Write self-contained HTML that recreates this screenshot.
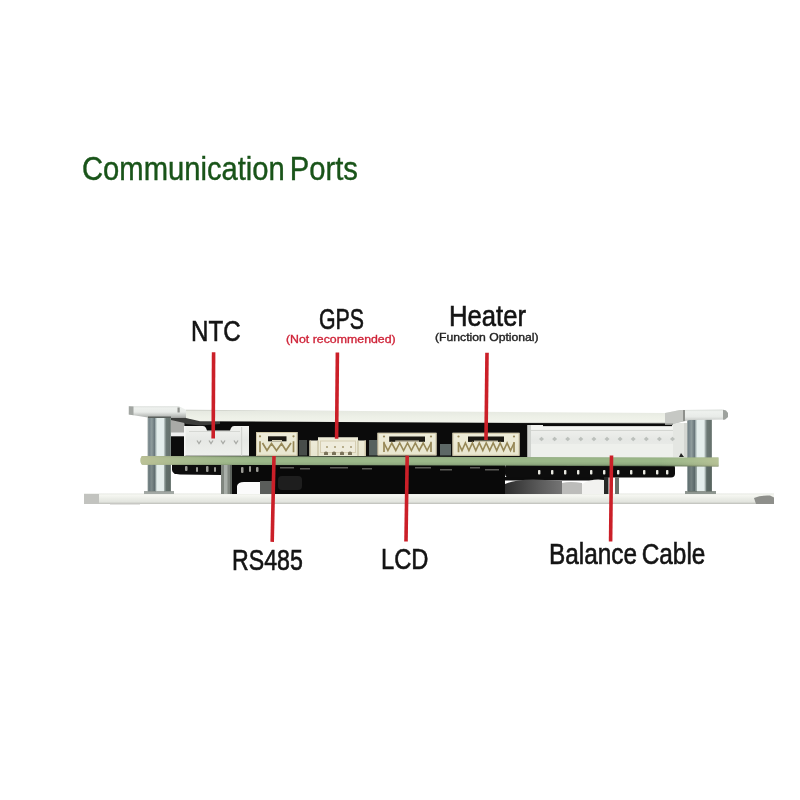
<!DOCTYPE html>
<html><head><meta charset="utf-8">
<style>
*{margin:0;padding:0;box-sizing:border-box}
html,body{width:800px;height:800px;background:#fff;overflow:hidden}
body{position:relative;font-family:"Liberation Sans",sans-serif}
.a{position:absolute}
.t{position:absolute;white-space:nowrap;line-height:1;transform-origin:0 0}
.r{position:absolute;background:#cf1720}
</style></head><body>

<!-- Title -->
<div class="t" id="title" style="left:82.02px;top:152.50px;font-size:32.34px;transform:scaleX(0.903);color:#195419;-webkit-text-stroke:0.4px #195419;word-spacing:-3.5px">Communication Ports</div>

<!-- labels -->
<div class="t" id="ntc" style="left:191.22px;top:316.75px;font-size:28.59px;transform:scaleX(0.844);color:#141414;-webkit-text-stroke:0.6px #141414">NTC</div>
<div class="t" id="gps" style="left:318.76px;top:305.21px;font-size:28.67px;transform:scaleX(0.743);color:#141414;-webkit-text-stroke:0.6px #141414">GPS</div>
<div class="t" id="gpss" style="left:286.32px;top:334.52px;font-size:10.12px;transform:scaleX(1.220);color:#cf2338;-webkit-text-stroke:0.3px #cf2338">(Not recommended)</div>
<div class="t" id="heat" style="left:449.18px;top:302.45px;font-size:28.61px;transform:scaleX(0.897);color:#141414;-webkit-text-stroke:0.6px #141414">Heater</div>
<div class="t" id="heats" style="left:434.71px;top:333.14px;font-size:10.44px;transform:scaleX(1.167);color:#222;-webkit-text-stroke:0.35px #222">(Function Optional)</div>
<div class="t" id="rs" style="left:232.34px;top:545.89px;font-size:28.58px;transform:scaleX(0.811);color:#141414;-webkit-text-stroke:0.6px #141414">RS485</div>
<div class="t" id="lcd" style="left:380.94px;top:544.80px;font-size:28.65px;transform:scaleX(0.829);color:#141414;-webkit-text-stroke:0.6px #141414">LCD</div>
<div class="t" id="bal" style="left:548.82px;top:539.61px;font-size:28.69px;transform:scaleX(0.850);color:#141414;-webkit-text-stroke:0.6px #141414;word-spacing:-2.6px">Balance Cable</div>

<!-- board -->
<svg class="a" style="left:0;top:0;filter:blur(0.35px)" width="800" height="800" viewBox="0 0 800 800">
<defs>
<linearGradient id="gso" x1="0" x2="1" y1="0" y2="0">
<stop offset="0" stop-color="#a8b2ae"/><stop offset="0.06" stop-color="#76848a"/><stop offset="0.18" stop-color="#8e9c9c"/>
<stop offset="0.3" stop-color="#6a787c"/><stop offset="0.36" stop-color="#b8c6c4"/><stop offset="0.42" stop-color="#e4eeec"/><stop offset="0.68" stop-color="#e4eeec"/>
<stop offset="0.74" stop-color="#a0acaa"/><stop offset="0.8" stop-color="#6a7874"/><stop offset="0.95" stop-color="#66726e"/><stop offset="1" stop-color="#8c9692"/>
</linearGradient>
<linearGradient id="gtp" x1="0" x2="0" y1="0" y2="1">
<stop offset="0" stop-color="#c2c5bd"/><stop offset="0.1" stop-color="#e6e9e1"/><stop offset="0.5" stop-color="#edf0e7"/>
<stop offset="0.86" stop-color="#f1f3eb"/><stop offset="0.95" stop-color="#c4c6c0"/><stop offset="1" stop-color="#3a3a38"/>
</linearGradient>
<linearGradient id="gtab" x1="0" x2="0" y1="0" y2="1">
<stop offset="0" stop-color="#d6d9d4"/><stop offset="0.2" stop-color="#eceee9"/><stop offset="0.65" stop-color="#e4e6e1"/><stop offset="1" stop-color="#a4a7a3"/>
</linearGradient>
<linearGradient id="gbp" x1="0" x2="0" y1="0" y2="1">
<stop offset="0" stop-color="#e4e6e0"/><stop offset="0.15" stop-color="#f6f7f2"/><stop offset="0.45" stop-color="#eceee8"/>
<stop offset="0.8" stop-color="#e2e4de"/><stop offset="1" stop-color="#bcbdb8"/>
</linearGradient>
<linearGradient id="gpcb" x1="0" x2="0" y1="0" y2="1">
<stop offset="0" stop-color="#7d9471"/><stop offset="0.18" stop-color="#98b386"/><stop offset="0.5" stop-color="#9cb98a"/><stop offset="0.8" stop-color="#90ab80"/><stop offset="1" stop-color="#52664a"/>
</linearGradient>
<linearGradient id="gpcbh" x1="0" x2="1" y1="0" y2="0">
<stop offset="0" stop-color="#c2c49a" stop-opacity="0.85"/><stop offset="0.07" stop-color="#b8c096" stop-opacity="0.5"/><stop offset="0.2" stop-color="#b0bc92" stop-opacity="0"/>
<stop offset="0.9" stop-color="#b8c296" stop-opacity="0"/><stop offset="1" stop-color="#c4c89c" stop-opacity="0.7"/>
</linearGradient>
<linearGradient id="gcw" x1="0" x2="0" y1="0" y2="1">
<stop offset="0" stop-color="#f2f3f0"/><stop offset="0.45" stop-color="#e6e8e5"/><stop offset="1" stop-color="#eef0ec"/>
</linearGradient>
<linearGradient id="gcc" x1="0" x2="0" y1="0" y2="1">
<stop offset="0" stop-color="#eeecd9"/><stop offset="1" stop-color="#e8e6d0"/>
</linearGradient>
</defs>

<!-- bottom plate -->
<rect x="84" y="493.5" width="690" height="10.5" fill="url(#gbp)"/>
<rect x="84" y="494" width="15" height="10" fill="#c2c3bf"/>
<path d="M754 498 Q760 495 770 495.5 L774 497.5 L774 504 L756 504 Z" fill="#8e8f8b"/>
<rect x="110" y="503" width="30" height="1.5" fill="#c8c8c4"/>

<!-- under pcb -->
<rect x="505" y="464" width="170" height="13.5" rx="4" fill="#0d0d0d"/>
<path d="M172 464 L232 464 L232 475 L222 475 L180 474.5 Q172 474 172 470 Z" fill="#0d0d0d"/>
<rect x="221" y="465" width="12" height="29" fill="#80867f"/>
<rect x="224" y="465" width="3.5" height="29" fill="#a8aea8"/>
<rect x="230" y="465" width="3" height="29" fill="#5e645e"/>
<rect x="232" y="464" width="273" height="30" fill="#090909"/>
<path d="M237 494 L237 486 Q238 482 244 482 L260 482 L260 494 Z" fill="#fbfbfb"/>
<rect x="260" y="481" width="12" height="13" fill="#5a5d5a"/>
<rect x="278" y="476" width="24" height="14" rx="4" fill="#1e1e1e"/>
<rect x="505" y="477" width="100" height="3.5" fill="#0c0c0c"/>
<linearGradient id="gblob" x1="0" x2="1" y1="0" y2="0"><stop offset="0" stop-color="#2e2e2e"/><stop offset="0.6" stop-color="#5a5a5a"/><stop offset="1" stop-color="#747474"/></linearGradient>
<path d="M505 494 L505 484 Q520 478 545 480 L562 481 L562 494 Z" fill="url(#gblob)"/>
<path d="M562 494 L562 483 Q570 481 582 483 L582 494 Z" fill="#bcbcba"/>
<path d="M582 494 L582 484 Q592 478 604 480 L604 494 Z" fill="#f2f2f0"/>
<rect x="604" y="477" width="4.5" height="17" fill="#262826"/>
<rect x="615" y="477" width="4" height="17" fill="#6a706a"/>
<!-- solder joints under pcb left -->
<g fill="#9a9a94">
<rect x="185" y="466" width="2.5" height="5" rx="1"/><rect x="196" y="467" width="2" height="5" rx="1"/><rect x="206" y="466" width="2.5" height="6" rx="1"/>
<rect x="214" y="467" width="2" height="5" rx="1"/><rect x="241" y="467" width="2.5" height="6" rx="1"/><rect x="249" y="466" width="2" height="6" rx="1"/>
<rect x="256" y="467" width="2.5" height="5" rx="1"/>
</g>
<g fill="#5a5a56">
<rect x="280" y="467" width="14" height="1.5"/><rect x="300" y="468" width="10" height="1.5"/><rect x="330" y="467" width="18" height="1.5"/><rect x="362" y="468" width="10" height="1.5"/>
<rect x="415" y="467" width="16" height="1.5"/><rect x="440" y="469" width="12" height="1.5"/><rect x="470" y="467" width="10" height="1.5"/><rect x="485" y="469" width="14" height="1.5"/>
</g>
<!-- pins -->
<g fill="#e8e8e0">
<rect x="538" y="470" width="2.4" height="4.5" rx="0.8"/><rect x="551" y="470" width="2.4" height="4.5" rx="0.8"/><rect x="564" y="470" width="2.4" height="4.5" rx="0.8"/>
<rect x="577" y="470" width="2.4" height="4.5" rx="0.8"/><rect x="590" y="470" width="2.4" height="4.5" rx="0.8"/><rect x="603" y="470" width="2.4" height="4.5" rx="0.8"/>
<rect x="617" y="470" width="2.4" height="4.5" rx="0.8"/><rect x="630" y="470" width="2.4" height="4.5" rx="0.8"/><rect x="643" y="470" width="2.4" height="4.5" rx="0.8"/>
<rect x="656" y="470" width="2.4" height="4.5" rx="0.8"/><rect x="666" y="470" width="2.4" height="4.5" rx="0.8"/>
</g>

<!-- black between plate and pcb -->
<rect x="171" y="419" width="502" height="38" fill="#0b0b0b"/>
<rect x="171" y="419" width="13.5" height="14" fill="#a9aaa7"/>
<rect x="171" y="432.5" width="13.5" height="3.8" fill="#efefef"/>
<path d="M170 417.5 L186 417.5 L200 420.5 L220 421.2 L220 424 L200 425.5 L186 424 L184.5 423 L171 420 Z" fill="#3c3d3b"/>
<!-- right light gap -->
<rect x="672" y="423" width="16" height="34" fill="#e4e6e2"/>
<rect x="684" y="423" width="3" height="34" fill="#d4d6d2"/>

<!-- standoffs -->
<rect x="147.5" y="417" width="23.5" height="76" fill="url(#gso)"/>
<rect x="144" y="491" width="30" height="3" fill="#a2a8a4"/>
<rect x="687" y="419.5" width="25" height="74" fill="url(#gso)"/>
<rect x="685" y="491" width="31" height="3" fill="#8e9690"/>
<rect x="688" y="466" width="9" height="26" fill="#3e4c48" opacity="0.35"/>
<rect x="706" y="466" width="6" height="26" fill="#3e4c48" opacity="0.35"/>
<rect x="148" y="465" width="8" height="27" fill="#3e4c48" opacity="0.2"/>
<rect x="164" y="465" width="7" height="27" fill="#3e4c48" opacity="0.2"/>

<!-- top plate: main face -->
<path d="M186 409.8 L665 413 L665 423.8 L200 421.2 L186 418 Z" fill="url(#gtp)"/>
<!-- left tab -->
<linearGradient id="gtab2" x1="0" x2="0" y1="0" y2="1">
<stop offset="0" stop-color="#d8dcd8"/><stop offset="0.15" stop-color="#eef1ee"/><stop offset="0.5" stop-color="#e8ebe8"/><stop offset="0.75" stop-color="#c8cbc8"/><stop offset="1" stop-color="#a8aaa8"/>
</linearGradient>
<path d="M128.8 406.2 L178.8 406.2 L186 409.8 L186 417.5 L170 417.8 L148 417.5 L128.8 414.5 Z" fill="url(#gtab2)"/>
<path d="M128.8 406.2 L133.5 406.5 L133.5 415.2 L128.8 414.5 Z" fill="#a2a6a2"/>
<rect x="177.5" y="407.5" width="2.2" height="5" fill="#8e908c"/>
<rect x="148" y="416.5" width="23" height="1.5" fill="#5a605c"/>
<!-- right tab -->
<path d="M665 413 L680 410 L722 409.5 L726 410.5 L728 413 L728 417 L725 419.5 L690 420 L672 424 L665 424 Z" fill="url(#gtab2)"/>
<path d="M665 413 L680 410 L685 410 L685 421 L672 424 L665 424 Z" fill="#c6c8c4"/>
<rect x="683" y="410" width="2" height="11" fill="#8e908c"/>
<path d="M723 409.8 L726 410.5 L728 413 L728 417 L725 419.5 L723 419.8 Z" fill="#9ea29e"/>
<rect x="665" y="423.5" width="8" height="1.5" fill="#8a8c88"/>
<!-- connectors -->
<!-- NTC -->
<path d="M184 426 L203 426 Q205 426 206 428 L207 430.5 L230 430.5 L231 428 Q232 426 234 426 L249 426 L249 455.8 L184 455.8 Z" fill="url(#gcw)"/>
<rect x="241" y="427" width="1.2" height="28.8" fill="#d2d4d0"/>
<rect x="184" y="426" width="1.5" height="29.8" fill="#f6f6f4"/>
<rect x="189" y="431" width="51" height="1" fill="#d6d8d4"/>
<g stroke="#a8aaa6" stroke-width="1.3" fill="none">
<path d="M197 440.5 l2 3 l2 -3"/><path d="M209 440.5 l2 3 l2 -3"/><path d="M221 440.5 l2 3 l2 -3"/><path d="M234 440.5 l2 3 l2 -3"/>
</g>
<rect x="256" y="432" width="41.5" height="23.8" fill="url(#gcc)"/>
<rect x="256.5" y="432.5" width="40.5" height="22.8" fill="none" stroke="#cfc6a6" stroke-width="1"/>
<rect x="268" y="436.3" width="18.5" height="5.0" fill="#1a1812"/>
<rect x="272.0" y="440.0" width="10" height="1.3" fill="#d8d2b8"/>
<circle cx="260.0" cy="436.3" r="1.1" fill="#9a8a5a"/><circle cx="293.5" cy="436.3" r="1.1" fill="#9a8a5a"/>
<path d="M260.0 441.3 L260.0 452.3 M293.5 441.3 L293.5 452.3" stroke="#978857" stroke-width="1.7"/>
<path d="M262.5 443.0 L267 450.5 L271.5 443.5 L276.5 450.5 L281.5 443.5 L286 450.5 L291 443.0" stroke="#978857" stroke-width="1.7" fill="none" stroke-linejoin="miter"/>

<!-- GPS -->
<path d="M309.5 440.5 L318 440.5 L318 437.2 L358 437.2 L358 440.5 L366 440.5 L366 456 L309.5 456 Z" fill="url(#gcc)"/>
<path d="M318 440.5 L318 456 M358 440.5 L358 456" stroke="#c4bc9c" stroke-width="1.2"/>
<rect x="320.5" y="441" width="35" height="11.5" fill="#efecdc" stroke="#d6ceb2" stroke-width="1"/>
<rect x="309.5" y="440.5" width="1.5" height="15.5" fill="#cdc5a8"/><rect x="364.5" y="440.5" width="1.5" height="15.5" fill="#cdc5a8"/>
<g fill="#7a735a"><path d="M324 455 L324 452.5 Q326 450.5 328 452.5 L328 455 Z"/><path d="M332 455 L332 452.5 Q334 450.5 336 452.5 L336 455 Z"/><path d="M340 455 L340 452.5 Q342 450.5 344 452.5 L344 455 Z"/><path d="M348 455 L348 452.5 Q350 450.5 352 452.5 L352 455 Z"/></g>
<g fill="#b8ae8c"><rect x="326" y="446" width="2" height="2"/><rect x="334" y="446" width="2" height="2"/><rect x="342" y="446" width="2" height="2"/><rect x="350" y="446" width="2" height="2"/></g>
<rect x="377.5" y="432.8" width="59" height="22.6" fill="url(#gcc)"/>
<rect x="378.0" y="433.3" width="58.0" height="21.6" fill="none" stroke="#cfc6a6" stroke-width="1"/>
<rect x="389.2" y="436.5" width="35.8" height="5.3" fill="#1a1812"/>
<rect x="395.2" y="440.5" width="23.8" height="1.3" fill="#d8d2b8"/>
<circle cx="384.0" cy="436.5" r="1.1" fill="#9a8a5a"/><circle cx="431.0" cy="436.5" r="1.1" fill="#9a8a5a"/>
<path d="M384.0 441.8 L384.0 451.9 M431.0 441.8 L431.0 451.9" stroke="#978857" stroke-width="1.7"/>
<path d="M384.0 443.0 L387.9 450.5 L391.8 443.0 L395.8 450.5 L399.7 443.0 L403.6 450.5 L407.5 443.0 L411.4 450.5 L415.3 443.0 L419.2 450.5 L423.2 443.0 L427.1 450.5 L431.0 443.0" stroke="#978857" stroke-width="1.6" fill="none" stroke-linejoin="miter"/>
<rect x="452.5" y="432.8" width="67" height="23" fill="url(#gcc)"/>
<rect x="453.0" y="433.3" width="66.0" height="22.0" fill="none" stroke="#cfc6a6" stroke-width="1"/>
<rect x="468" y="436.5" width="36.0" height="5.4" fill="#1a1812"/>
<rect x="474.0" y="440.6" width="24.0" height="1.3" fill="#d8d2b8"/>
<circle cx="458.5" cy="436.5" r="1.1" fill="#9a8a5a"/><circle cx="514.0" cy="436.5" r="1.1" fill="#9a8a5a"/>
<path d="M458.5 441.9 L458.5 452.3 M514.0 441.9 L514.0 452.3" stroke="#978857" stroke-width="1.7"/>
<path d="M458.5 443.0 L462.0 450.5 L465.4 443.0 L468.9 450.5 L472.4 443.0 L475.8 450.5 L479.3 443.0 L482.8 450.5 L486.2 443.0 L489.7 450.5 L493.2 443.0 L496.7 450.5 L500.1 443.0 L503.6 450.5 L507.1 443.0 L510.5 450.5 L514.0 443.0" stroke="#978857" stroke-width="1.6" fill="none" stroke-linejoin="miter"/>
<!-- gray smd -->
<rect x="299" y="440" width="8" height="15.5" fill="#474c4a"/>
<rect x="369" y="440" width="8" height="15.5" fill="#56615f"/>
<rect x="440" y="444" width="11" height="11.5" fill="#5d6866"/>
<!-- Balance -->
<path d="M527.5 425 L543 425 L543 426.3 L673 426.3 L673 457 L527.5 457 Z" fill="url(#gcw)"/>
<rect x="531" y="426.5" width="142" height="3" fill="#f4f5f2"/>
<rect x="531" y="430" width="142" height="1" fill="#d4d6d2"/>
<rect x="531" y="444" width="142" height="12" fill="#eef0ec"/>
<rect x="527.5" y="425" width="3.5" height="32" fill="#cfd2ce"/>
<g fill="#bcc0bc"><path d="M539.0 439 l2.5 -2.2 l2.5 2.2 l-2.5 2.2 z"/><path d="M552.1 439 l2.5 -2.2 l2.5 2.2 l-2.5 2.2 z"/><path d="M565.2 439 l2.5 -2.2 l2.5 2.2 l-2.5 2.2 z"/><path d="M578.3 439 l2.5 -2.2 l2.5 2.2 l-2.5 2.2 z"/><path d="M591.4 439 l2.5 -2.2 l2.5 2.2 l-2.5 2.2 z"/><path d="M604.5 439 l2.5 -2.2 l2.5 2.2 l-2.5 2.2 z"/><path d="M617.6 439 l2.5 -2.2 l2.5 2.2 l-2.5 2.2 z"/><path d="M630.7 439 l2.5 -2.2 l2.5 2.2 l-2.5 2.2 z"/><path d="M643.8 439 l2.5 -2.2 l2.5 2.2 l-2.5 2.2 z"/><path d="M656.9 439 l2.5 -2.2 l2.5 2.2 l-2.5 2.2 z"/><path d="M670.0 439 l2.5 -2.2 l2.5 2.2 l-2.5 2.2 z"/></g>
<path d="M681 453 L684 457 L679 457 Z" fill="#222"/>

<!-- pcb -->
<path d="M143 456 L718.5 457.6 L718.5 466.4 L143 464.7 Q140.5 464.7 140.5 460.3 Q140.5 456 143 456 Z" fill="url(#gpcb)"/>
<path d="M143 456 L718.5 457.6 L718.5 466.4 L143 464.7 Q140.5 464.7 140.5 460.3 Q140.5 456 143 456 Z" fill="url(#gpcbh)"/>
<!-- red lines -->
<g stroke="#cb1f28" stroke-width="3.6" stroke-linecap="butt">
<line x1="213.6" y1="352.2" x2="213.2" y2="438.6"/>
<line x1="337.4" y1="352.5" x2="336.6" y2="438.8"/>
<line x1="487.0" y1="352.8" x2="486.0" y2="440.0"/>
<line x1="274.0" y1="456.0" x2="272.2" y2="541.9"/>
<line x1="407.2" y1="455.6" x2="406.0" y2="541.5"/>
<line x1="611.5" y1="455.6" x2="610.6" y2="541.5"/>
</g>
</svg>
</body></html>
